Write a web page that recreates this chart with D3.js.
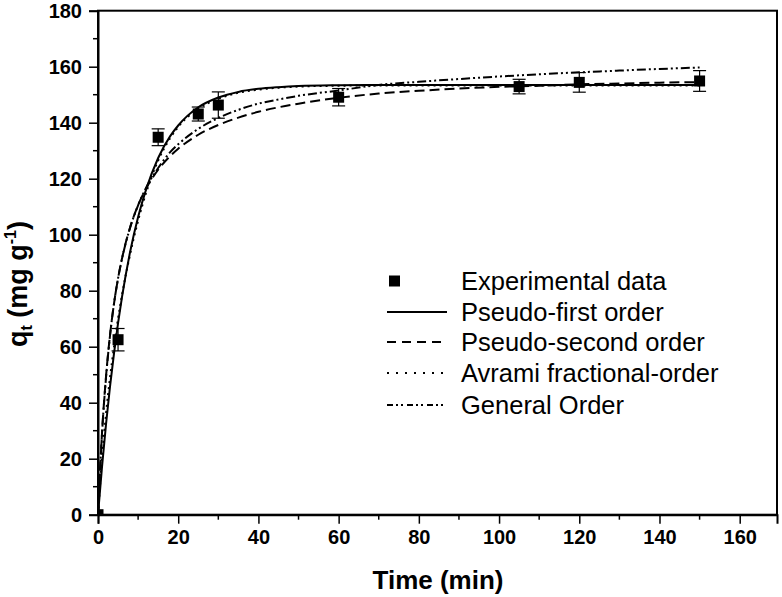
<!DOCTYPE html>
<html>
<head>
<meta charset="utf-8">
<script src="https://cdn.jsdelivr.net/npm/d3@7/dist/d3.min.js"></script>
<style>
  html, body { margin: 0; padding: 0; background: #fff; }
  svg { display: block; }
</style>
</head>
<body>
<svg id="chart" width="782" height="597"></svg>
<script>
// ---- Data ----
const timeExp = [0, 5, 15, 25, 30, 60, 105, 120, 150];
const qtExp   = [0, 62.5, 134.8, 143.1, 146.3, 149.1, 152.9, 154.4, 154.9];
const qtErr   = [0, 4, 3, 2.5, 4.7, 3.1, 2.6, 3.5, 3.7];

const timeFit = [0, 1, 2, 3, 4, 5, 6, 8, 10, 12, 15, 18, 20, 25, 30, 35, 40, 45, 50, 60, 70, 80, 90, 100, 110, 120, 130, 140, 150];
const qtPFO   = [0, 17.1, 32.3, 45.8, 57.7, 68.4, 77.9, 93.8, 106.3, 116.2, 127.4, 135.2, 139.0, 145.5, 149.0, 151.0, 152.1, 152.7, 153.1, 153.4, 153.5, 153.5, 153.5, 153.5, 153.5, 153.5, 153.5, 153.5, 153.5];
const qtPSO   = [0, 29.2, 49.4, 64.2, 75.5, 84.4, 91.6, 102.6, 110.5, 116.5, 123.2, 128.1, 130.7, 135.7, 139.2, 141.8, 143.9, 145.5, 146.8, 148.9, 150.4, 151.4, 152.2, 152.8, 153.2, 153.7, 154.0, 154.3, 154.5];
const qtAvrami= [0, 20, 36, 49, 60, 70, 78.5, 93, 105, 115, 126.5, 134.5, 138.5, 145, 148.5, 150.7, 151.8, 152.5, 152.9, 153.2, 153.3, 153.3, 153.3, 153.3, 153.3, 153.3, 153.3, 153.3, 153.3];
const qtGeneral=[0, 29, 49, 64, 75.5, 84.4, 91.5, 102.5, 110.5, 116.8, 123.8, 129.5, 132.3, 137.8, 141.7, 144.6, 146.8, 148.3, 149.6, 151.5, 153.5, 154.6, 155.6, 156.5, 157.3, 158.0, 158.6, 159.2, 159.7];

const xTicks = [0, 20, 40, 60, 80, 100, 120, 140, 160];
const yTicks = [0, 20, 40, 60, 80, 100, 120, 140, 160, 180];
const legendLabels = ["Experimental data", "Pseudo-first order", "Pseudo-second order", "Avrami fractional-order", "General Order"];

(function () {
// ---- Layout ----
const svg = d3.select("#chart");
const pLeft = 98, pRight = 777, pTop = 10.7, pBottom = 514.7;
const x = d3.scaleLinear().domain([0, 169.3]).range([pLeft, pRight]);
const y = d3.scaleLinear().domain([0, 180]).range([pBottom, pTop]);

const tickFont = "'Liberation Sans', Arial, sans-serif";

svg.append("defs").append("clipPath").attr("id", "plotClip")
  .append("rect").attr("x", pLeft).attr("y", pTop)
  .attr("width", pRight - pLeft).attr("height", pBottom - pTop);

// frame
svg.append("rect")
  .attr("x", pLeft).attr("y", pTop)
  .attr("width", pRight - pLeft).attr("height", pBottom - pTop)
  .attr("fill", "none").attr("stroke", "#000").attr("stroke-width", 2);

// minor ticks
const xMinor = d3.range(10, 170, 20);
const yMinor = d3.range(10, 180, 20);
svg.append("g").selectAll("line").data(xMinor).join("line")
  .attr("x1", d => x(d)).attr("x2", d => x(d))
  .attr("y1", pBottom).attr("y2", pBottom + 5)
  .attr("stroke", "#000").attr("stroke-width", 1.5);
svg.append("g").selectAll("line").data(yMinor).join("line")
  .attr("y1", d => y(d)).attr("y2", d => y(d))
  .attr("x1", pLeft).attr("x2", pLeft - 5)
  .attr("stroke", "#000").attr("stroke-width", 1.5);

// axes
const xAxis = svg.append("g").attr("transform", `translate(0,${pBottom})`)
  .call(d3.axisBottom(x).tickValues(xTicks).tickSize(9).tickPadding(6).tickFormat(d3.format("d")));
const yAxis = svg.append("g").attr("transform", `translate(${pLeft},0)`)
  .call(d3.axisLeft(y).tickValues(yTicks).tickSize(9).tickPadding(7).tickFormat(d3.format("d")));
[xAxis, yAxis].forEach(g => {
  g.select(".domain").attr("stroke-width", 2);
  g.selectAll(".tick line").attr("stroke-width", 1.5);
  g.selectAll(".tick text")
    .attr("font-family", tickFont).attr("font-weight", "bold")
    .attr("font-size", 20).attr("fill", "#000");
});

// axis titles
svg.append("text")
  .attr("x", 438).attr("y", 589)
  .attr("text-anchor", "middle")
  .attr("font-family", tickFont).attr("font-weight", "bold").attr("font-size", 26)
  .text("Time (min)");

const yl = svg.append("text")
  .attr("transform", "translate(27,284) rotate(-90)")
  .attr("text-anchor", "middle")
  .attr("font-family", tickFont).attr("font-weight", "bold").attr("font-size", 27);
yl.append("tspan").text("q");
yl.append("tspan").attr("font-size", 16).attr("dy", 5).text("t");
yl.append("tspan").attr("dy", -5).text(" (mg g");
yl.append("tspan").attr("font-size", 16).attr("dy", -11).text("-1");
yl.append("tspan").attr("dy", 11).text(")");

// fit curves
const series = [
  {vals: qtPFO, dash: null, legendDash: null, w: 2},
  {vals: qtPSO, dash: "10,5", legendDash: "9,6", w: 2},
  {vals: qtAvrami, dash: "2,4", legendDash: "2,7", w: 2},
  {vals: qtGeneral, dash: "9,3,2,3,2,3", legendDash: "6,3,2,3,2,4", w: 2}
];
const line = d3.line().x(d => x(d[0])).y(d => y(d[1])).curve(d3.curveMonotoneX);
series.forEach(s => {
  svg.append("path")
    .datum(timeFit.map((t, i) => [t, s.vals[i]]))
    .attr("d", line)
    .attr("fill", "none").attr("stroke", "#000")
    .attr("stroke-width", s.w)
    .attr("stroke-dasharray", s.dash);
});

// experimental points with error bars
const pts = timeExp.map((t, i) => ({t, q: qtExp[i], e: qtErr[i]}));
const eb = svg.append("g");
pts.filter(d => d.e > 0).forEach(d => {
  const cx = x(d.t);
  eb.append("line").attr("x1", cx).attr("x2", cx)
    .attr("y1", y(d.q - d.e)).attr("y2", y(d.q + d.e))
    .attr("stroke", "#000").attr("stroke-width", 1.2);
  [d.q - d.e, d.q + d.e].forEach(v => {
    eb.append("line").attr("x1", cx - 6.5).attr("x2", cx + 6.5)
      .attr("y1", y(v)).attr("y2", y(v))
      .attr("stroke", "#000").attr("stroke-width", 1.2);
  });
});
svg.append("g").attr("clip-path", "url(#plotClip)")
  .selectAll("rect").data(pts).join("rect")
  .attr("x", d => x(d.t) - 5.5).attr("y", d => y(d.q) - 5.5)
  .attr("width", 11).attr("height", 11).attr("fill", "#000");

// legend
const lg = svg.append("g");
const lgY = [281, 312, 342, 373, 405];
lg.append("rect").attr("x", 389).attr("y", lgY[0] - 5.5).attr("width", 11).attr("height", 11).attr("fill", "#000");
series.forEach((s, i) => {
  lg.append("line")
    .attr("x1", 387).attr("x2", 447)
    .attr("y1", lgY[i + 1]).attr("y2", lgY[i + 1])
    .attr("stroke", "#000").attr("stroke-width", s.w)
    .attr("stroke-dasharray", s.legendDash);
});
legendLabels.forEach((t, i) => {
  lg.append("text")
    .attr("x", 461).attr("y", lgY[i] + 9)
    .attr("font-family", tickFont).attr("font-size", 25.5)
    .text(t);
});
})();
</script>
</body>
</html>
